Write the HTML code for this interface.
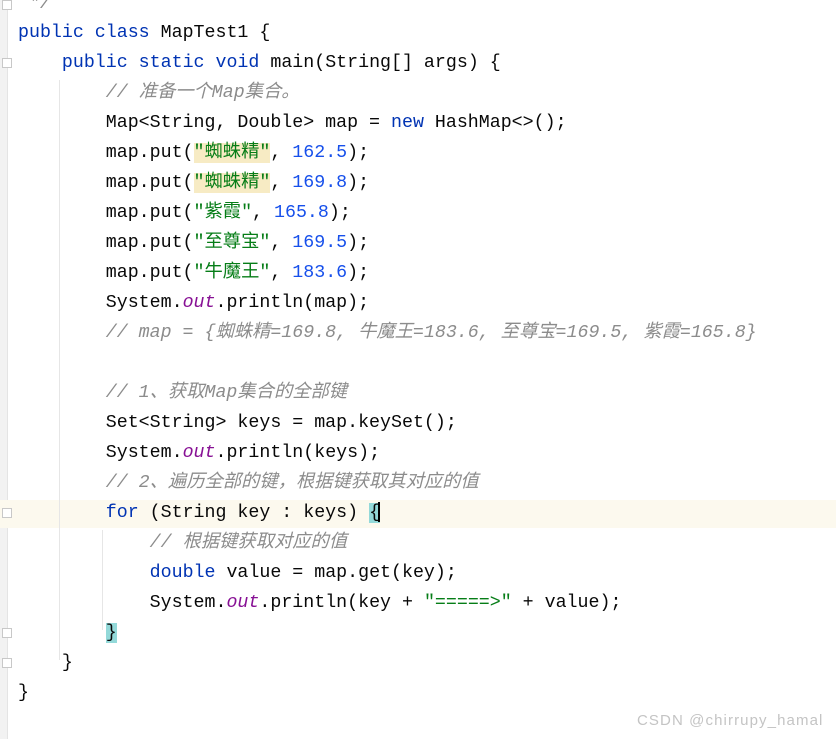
<!DOCTYPE html>
<html><head><meta charset="utf-8"><style>
html,body{margin:0;padding:0;}
body{width:836px;height:739px;background:#fff;position:relative;overflow:hidden;}
.gut{position:absolute;left:0;top:0;width:7px;height:739px;background:#f2f2f2;border-right:1px solid #e4e4e4;}
.hl{position:absolute;left:0;top:500px;width:836px;height:28px;background:#fcf9ee;}
.guide{position:absolute;width:1px;background:#e6e6e6;}
.fold{position:absolute;left:2px;width:10px;height:10px;border:1px solid #c8c8c8;background:#fff;box-sizing:border-box;}
.ln{position:absolute;left:18px;height:30px;line-height:30px;white-space:pre;font-family:"Liberation Mono","Noto Sans CJK SC",monospace;font-size:18.3px;color:#080808;}
.k{color:#0033b3;}
.s{color:#067d17;}
.sb{background:#f7ebc4;}
.n{color:#1750eb;}
.c{color:#8c8c8c;font-style:italic;}
.o{color:#871094;font-style:italic;}
.br{background:#93d9d9;}
.cur{display:inline-block;width:2px;height:20px;background:#000;vertical-align:middle;margin-left:-2px;}
.wm{position:absolute;left:637px;top:712px;font-family:"Liberation Sans",sans-serif;font-size:15px;letter-spacing:1.1px;color:#c4c4c4;white-space:nowrap;}
</style></head><body>
<div class="gut"></div>
<div class="hl"></div>
<div class="guide" style="left:59px;top:80px;height:580px;"></div>
<div class="guide" style="left:102px;top:530px;height:100px;"></div>
<div class="fold" style="top:0px;"></div>
<div class="fold" style="top:58px;"></div>
<div class="fold" style="top:508px;"></div>
<div class="fold" style="top:628px;"></div>
<div class="fold" style="top:658px;"></div>

<div class="ln c" style="top:-11px;left:18px;"> */</div>
<div class="ln" style="top:18px;"><span class="k">public class</span> MapTest1 {</div>
<div class="ln" style="top:48px;">    <span class="k">public static void</span> main(String[] args) {</div>
<div class="ln" style="top:78px;">        <span class="c">// 准备一个Map集合。</span></div>
<div class="ln" style="top:108px;">        Map&lt;String, Double&gt; map = <span class="k">new</span> HashMap&lt;&gt;();</div>
<div class="ln" style="top:138px;">        map.put(<span class="s sb">"蜘蛛精"</span>, <span class="n">162.5</span>);</div>
<div class="ln" style="top:168px;">        map.put(<span class="s sb">"蜘蛛精"</span>, <span class="n">169.8</span>);</div>
<div class="ln" style="top:198px;">        map.put(<span class="s">"紫霞"</span>, <span class="n">165.8</span>);</div>
<div class="ln" style="top:228px;">        map.put(<span class="s">"至尊宝"</span>, <span class="n">169.5</span>);</div>
<div class="ln" style="top:258px;">        map.put(<span class="s">"牛魔王"</span>, <span class="n">183.6</span>);</div>
<div class="ln" style="top:288px;">        System.<span class="o">out</span>.println(map);</div>
<div class="ln" style="top:318px;">        <span class="c">// map = {蜘蛛精=169.8, 牛魔王=183.6, 至尊宝=169.5, 紫霞=165.8}</span></div>
<div class="ln" style="top:378px;">        <span class="c">// 1、获取Map集合的全部键</span></div>
<div class="ln" style="top:408px;">        Set&lt;String&gt; keys = map.keySet();</div>
<div class="ln" style="top:438px;">        System.<span class="o">out</span>.println(keys);</div>
<div class="ln" style="top:468px;">        <span class="c">// 2、遍历全部的键，根据键获取其对应的值</span></div>
<div class="ln" style="top:498px;">        <span class="k">for</span> (String key : keys) <span class="br">{</span><span class="cur"></span></div>
<div class="ln" style="top:528px;">            <span class="c">// 根据键获取对应的值</span></div>
<div class="ln" style="top:558px;">            <span class="k">double</span> value = map.get(key);</div>
<div class="ln" style="top:588px;">            System.<span class="o">out</span>.println(key + <span class="s">"=====&gt;"</span> + value);</div>
<div class="ln" style="top:618px;">        <span class="br">}</span></div>
<div class="ln" style="top:648px;">    }</div>
<div class="ln" style="top:678px;">}</div>
<div class="wm">CSDN @chirrupy_hamal</div>
</body></html>
